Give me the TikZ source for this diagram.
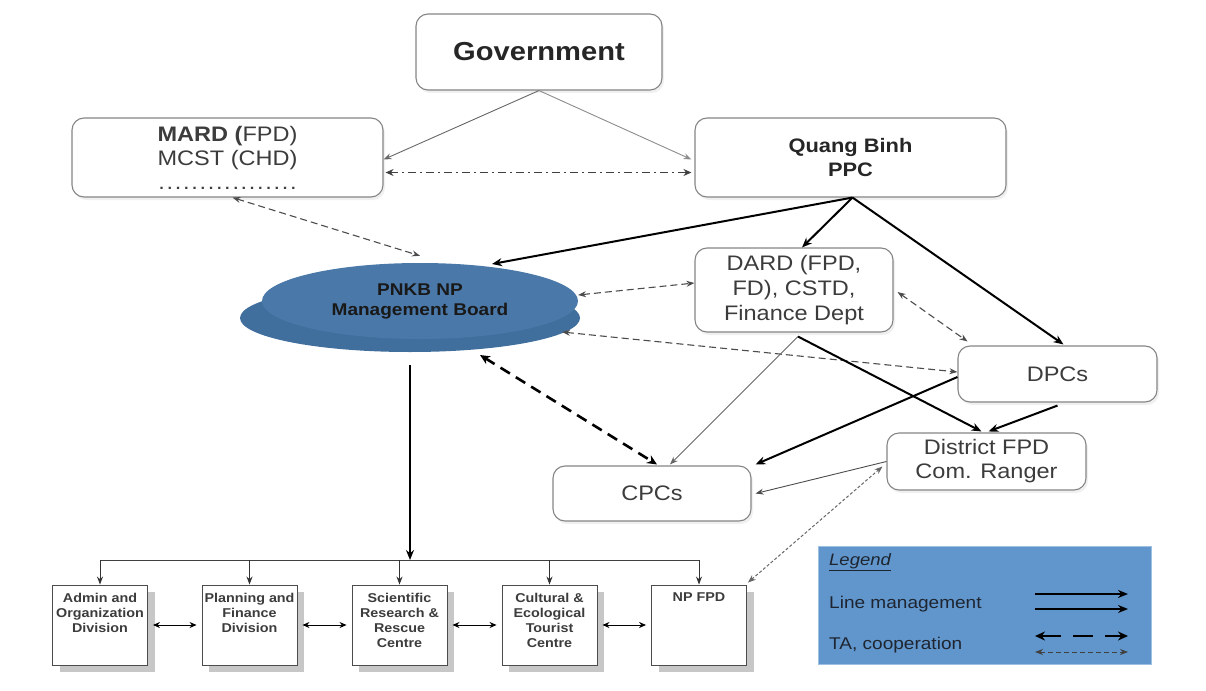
\documentclass[tikz,border=0pt]{standalone}
\usepackage{fontspec}
\setmainfont{Liberation Sans}[FakeStretch=1.12]
\usetikzlibrary{arrows.meta,shadows,calc,shapes.geometric}
\definecolor{boxgray}{HTML}{858585}
\definecolor{txtgray}{HTML}{3C3C3C}
\definecolor{ellTop}{HTML}{4A78A8}
\definecolor{ellLow}{HTML}{406E9D}
\definecolor{legfill}{HTML}{6096CC}
\definecolor{legdraw}{HTML}{9DBFE2}
\definecolor{legtxt}{HTML}{1E2530}
\begin{document}
\begin{tikzpicture}[x=1pt,y=-1pt,
  rbox/.style={draw=boxgray, line width=1.1pt, rounded corners=12pt, fill=white, align=center, text=txtgray,
    font=\fontsize{21}{25}\selectfont, inner sep=0pt,
    drop shadow={shadow xshift=2pt, shadow yshift=-3pt, opacity=0.12}},
  bbox/.style={draw=black!70, line width=0.9pt, fill=white, minimum width=95pt, minimum height=80pt, inner sep=0pt,
    drop shadow={shadow xshift=7pt, shadow yshift=-7pt, fill=black!22, opacity=1}},
  btext/.style={anchor=north, align=center, font=\bfseries\fontsize{12.8}{15}\selectfont, text=txtgray, inner sep=0pt, yshift=-8pt},
  thinarr/.style={draw=black!60, line width=0.9pt, -{Stealth[length=8pt,width=6pt]}},
  thickarr/.style={draw=black, line width=2pt, -{Stealth[length=10pt,width=8pt]}},
  tadash/.style={draw=black!70, line width=1.1pt, dash pattern=on 7pt off 4pt, {Stealth[length=8pt,width=6pt]}-{Stealth[length=8pt,width=6pt]}},
  tathick/.style={draw=black, line width=2.6pt, dash pattern=on 11pt off 7pt, {Stealth[length=10pt,width=9pt]}-{Stealth[length=10pt,width=9pt]}},
  dashdotarr/.style={draw=black!75, line width=1.6pt, dash pattern=on 8pt off 4pt on 2pt off 4pt, {Stealth[length=8pt,width=7pt]}-{Stealth[length=8pt,width=7pt]}},
  finedot/.style={draw=black!60, line width=1pt, dash pattern=on 3pt off 2pt, {Stealth[length=8pt,width=6pt]}-{Stealth[length=8pt,width=6pt]}},
  busline/.style={draw=black!75, line width=1pt},
  biarr/.style={draw=black, line width=1pt, {Stealth[length=7pt,width=6pt]}-{Stealth[length=7pt,width=6pt]}}
]
\useasboundingbox (0,0) rectangle (1206,690);

% top level
\node[rbox, minimum width=246pt, minimum height=76pt, font=\bfseries\fontsize{26}{30}\selectfont, text=black!85] (gov) at (539,52) {Government};
\node[rbox, minimum width=311pt, minimum height=79pt, font=\fontsize{21}{24}\selectfont] (mard) at (227.5,157.5)
  {\textbf{MARD (}FPD)\\MCST (CHD)\\\makebox[140pt]{\xleaders\hbox to 8.2pt{\hss.\hss}\hfill}};
\node[rbox, minimum width=311pt, minimum height=79pt, font=\bfseries\fontsize{19.5}{24}\selectfont, text=black!85] (ppc) at (850.5,157.5) {Quang Binh\\PPC};

% management board
\node[ellipse, fill=ellLow, minimum width=340pt, minimum height=68pt, inner sep=0pt] (mb2) at (410,318) {};
\node[ellipse, fill=ellTop, minimum width=316pt, minimum height=76pt, inner sep=0pt, align=center,
  font=\bfseries\fontsize{17}{20}\selectfont, text=black!90] (mb) at (420,301) {PNKB NP\\Management Board};

% middle boxes
\node[rbox, minimum width=198pt, minimum height=84pt] (dard) at (794,290) {DARD (FPD,\\FD), CSTD,\\Finance Dept};
\node[rbox, minimum width=199pt, minimum height=56pt] (dpc) at (1057.5,374) {DPCs};
\node[rbox, minimum width=199pt, minimum height=57pt, font=\fontsize{21}{24}\selectfont] (dfpd) at (986.5,461.5) {District FPD\\Com. Ranger};
\node[rbox, minimum width=198pt, minimum height=55pt] (cpc) at (652,493.5) {CPCs};

% bottom boxes
\node[bbox] (adm) at (100,625) {};
\node[bbox] (pla) at (249.5,625) {};
\node[bbox] (sci) at (399.5,625) {};
\node[bbox] (cul) at (549.5,625) {};
\node[bbox] (npf) at (699,625) {};
\node[btext] (admt) at (adm.north) {Admin and\\Organization\\Division};
\node[btext] (plat) at (pla.north) {Planning and\\Finance\\Division};
\node[btext] (scit) at (sci.north) {Scientific\\Research \&\\Rescue\\Centre};
\node[btext] (cult) at (cul.north) {Cultural \&\\Ecological\\Tourist\\Centre};
\node[btext] (npft) at (npf.north) {NP FPD};

% bus
\coordinate (bus) at (410,560);
\draw[thickarr] ([yshift=-13pt]mb2.south) -- (bus);
\draw[busline] (adm.north |- bus) -- (npf.north |- bus);
\foreach \b in {adm,pla,sci,cul,npf}{
  \draw[thinarr, draw=black!80] (\b.north |- bus) -- (\b.north);
}
\draw[biarr] ([xshift=5pt]adm.east) -- ([xshift=-5pt]pla.west);
\draw[biarr] ([xshift=5pt]pla.east) -- ([xshift=-5pt]sci.west);
\draw[biarr] ([xshift=5pt]sci.east) -- ([xshift=-5pt]cul.west);
\draw[biarr] ([xshift=5pt]cul.east) -- ([xshift=-5pt]npf.west);

% top connectors
\draw[thinarr] (gov.south) -- ([yshift=-2pt]mard.east);
\draw[thinarr, draw=black!45] (gov.south) -- ([xshift=-3pt,yshift=-2pt]ppc.west);
\draw[dashdotarr] ([xshift=2pt,yshift=-15pt]mard.east) -- ([xshift=-3pt,yshift=-15pt]ppc.west);
\draw[tadash] ([xshift=5pt]mard.south) -- ([yshift=7pt]mb.north);

% PPC line management
\draw[thickarr] ([xshift=2pt]ppc.south) -- ([xshift=72pt,yshift=37pt]mb.center);
\draw[thickarr] ([xshift=2pt]ppc.south) -- ([xshift=8pt]dard.north);
\draw[thickarr] ([xshift=2pt]ppc.south) -- ([xshift=6pt,yshift=1pt]dpc.north);

% TA cooperation
\draw[tadash] ([xshift=158pt,yshift=6pt]mb.center) -- ([yshift=7pt]dard.west);
\draw[tadash] ([xshift=4pt,yshift=-2pt]dard.east) -- ([xshift=-90pt,yshift=4pt]dpc.north);
\draw[tadash] ([xshift=142pt,yshift=-31pt]mb.center) -- ([yshift=2pt]dpc.west);
\draw[tathick] ([xshift=60pt,yshift=-54pt]mb.center) -- ([xshift=5pt,yshift=1pt]cpc.north);
\draw[finedot] ([xshift=1pt,yshift=2pt]npf.north east) -- ([xshift=-4pt,yshift=-5pt]dfpd.west);

% DARD / DPCs / District lines
\draw[thinarr] ([xshift=4pt,yshift=-4pt]dard.south) -- ([xshift=18pt,yshift=1pt]cpc.north);
\draw[thickarr] ([xshift=4pt,yshift=-4pt]dard.south) -- ([xshift=-5pt,yshift=1pt]dfpd.north);
\draw[thickarr] ([yshift=-3pt]dpc.west) -- ([xshift=4pt,yshift=1pt]cpc.north east);
\draw[thickarr] ([yshift=-3pt]dpc.south) -- ([xshift=2pt,yshift=1pt]dfpd.north);
\draw[thinarr, draw=black!70] (dfpd.west) -- ([xshift=4pt]cpc.east);

% legend
\node[draw=legdraw, line width=1pt, fill=legfill, minimum width=333pt, minimum height=118pt, inner sep=0pt] (leg) at (984.5,605) {};
\node[anchor=west, inner sep=0pt, font=\itshape\fontsize{16.5}{18}\selectfont, text=legtxt] (legt) at (829,562) {\underline{Legend}};
\node[anchor=west, inner sep=0pt, font=\fontsize{17}{19}\selectfont, text=legtxt] (lml) at (829,604) {Line management};
\node[anchor=west, inner sep=0pt, font=\fontsize{17}{19}\selectfont, text=legtxt] (tal) at (829,645) {TA, cooperation};
\coordinate (l1a) at (1035,594); \coordinate (l1b) at (1128,594);
\coordinate (l2a) at (1035,609); \coordinate (l2b) at (1128,609);
\coordinate (l3a) at (1035,636); \coordinate (l3b) at (1128,636);
\coordinate (l4a) at (1035,652); \coordinate (l4b) at (1128,652);
\draw[thickarr, line width=1.8pt] (l1a) -- (l1b);
\draw[thickarr, line width=1.3pt] (l2a) -- (l2b);
\draw[tathick, line width=2.2pt, dash pattern=on 20pt off 12pt] (l3a) -- (l3b);
\draw[finedot, draw=black!75, dash pattern=on 5pt off 3pt] (l4a) -- (l4b);
\end{tikzpicture}
\end{document}
